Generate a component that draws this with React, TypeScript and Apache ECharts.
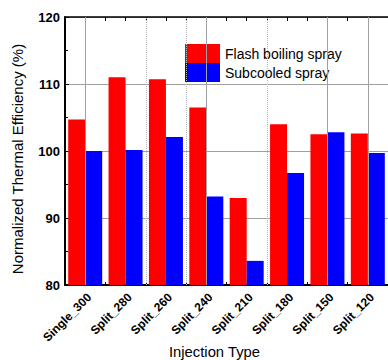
import React, { useEffect, useRef } from "react";
import * as echarts from "echarts";

// Injection strategies on the x axis
const categories = [
  "Single_300",
  "Split_280",
  "Split_260",
  "Split_240",
  "Split_210",
  "Split_180",
  "Split_150",
  "Split_120",
];

// Normalized thermal efficiency (%) per injection type
const flashBoiling = [104.7, 111.0, 110.7, 106.5, 93.0, 104.0, 102.5, 102.6];
const subcooled = [100.0, 100.15, 102.1, 93.2, 83.6, 96.7, 102.8, 99.7];

const yTicks = { min: 80, max: 120, step: 10 };

// Vertical guide lines on the 0..8 frame axis (category centres sit at i + 0.5)
const solidGuides = [0.5, 3.5, 6.5, 7.5];
const dottedGuides = [2, 3, 5];

const FONT = "'Liberation Sans', Arial, sans-serif";

export default function App() {
  const ref = useRef<HTMLDivElement>(null);

  useEffect(() => {
    if (!ref.current) return;
    const chart = echarts.init(ref.current, undefined, { renderer: "svg" });

    chart.setOption({
      animation: false,
      backgroundColor: "#ffffff",
      textStyle: { fontFamily: FONT },
      grid: { left: 65, top: 17, bottom: 75, right: -2, containLabel: false },
      legend: {
        orient: "vertical",
        left: 180,
        top: 39,
        itemWidth: 35,
        itemHeight: 19,
        itemGap: 0,
        icon: "rect",
        textStyle: { fontSize: 14, color: "#000", fontFamily: FONT },
        data: ["Flash boiling spray", "Subcooled spray"],
      },
      xAxis: [
        {
          type: "category",
          data: categories,
          position: "bottom",
          axisLine: { lineStyle: { color: "#000", width: 2 } },
          axisTick: { show: true, inside: true, length: 3, lineStyle: { color: "#000" } },
          axisLabel: {
            rotate: 45,
            fontSize: 12,
            fontWeight: "bold",
            color: "#000",
            margin: 6,
            verticalAlign: "top",
            fontFamily: FONT,
          },
          splitLine: { show: false },
        },
        {
          type: "value",
          position: "top",
          min: 0,
          max: 8,
          interval: 0.5,
          axisLine: { show: true, lineStyle: { color: "#000", width: 1.5 } },
          axisTick: { show: true, inside: true, length: 4, lineStyle: { color: "#000" } },
          axisLabel: { show: false },
          splitLine: { show: false },
        },
      ],
      yAxis: {
        type: "value",
        min: yTicks.min,
        max: yTicks.max,
        interval: yTicks.step,
        axisLine: { show: true, lineStyle: { color: "#000", width: 2 } },
        axisTick: { show: true, inside: true, length: 4, lineStyle: { color: "#000" } },
        minorTick: { show: true, splitNumber: 2, length: 3, lineStyle: { color: "#000" } },
        axisLabel: {
          fontSize: 13,
          fontWeight: "bold",
          color: "#000",
          margin: 5,
          fontFamily: FONT,
        },
        splitLine: { show: true, lineStyle: { color: "#a0a0a0", width: 1 } },
      },
      graphic: [
        {
          type: "text",
          x: 214.5,
          y: 352,
          style: {
            text: "Injection Type",
            fontSize: 14.8,
            fontFamily: FONT,
            fill: "#000",
            align: "center",
            verticalAlign: "middle",
          },
        },
        {
          type: "text",
          x: 17,
          y: 159,
          rotation: Math.PI / 2,
          style: {
            text: "Normalized Thermal Efficiency (%)",
            fontSize: 15,
            fontFamily: FONT,
            fill: "#000",
            align: "center",
            verticalAlign: "middle",
          },
        },
      ],
      series: [
        {
          type: "line",
          xAxisIndex: 1,
          yAxisIndex: 0,
          data: [],
          z: 1,
          silent: true,
          markLine: {
            silent: true,
            symbol: ["none", "none"],
            label: { show: false },
            data: [
              ...solidGuides.map((v) => ({
                xAxis: v,
                lineStyle: { color: "#a0a0a0", width: 1, type: "solid" },
              })),
              ...dottedGuides.map((v) => ({
                xAxis: v,
                lineStyle: { color: "#b8b8b8", width: 1, type: "dotted" },
              })),
            ],
          },
        },
        {
          name: "Flash boiling spray",
          type: "bar",
          data: flashBoiling,
          barWidth: 17,
          barGap: "0%",
          z: 2,
          itemStyle: { color: "#ff0000" },
        },
        {
          name: "Subcooled spray",
          type: "bar",
          data: subcooled,
          barWidth: 17,
          barGap: "0%",
          z: 2,
          itemStyle: { color: "#0000ff" },
        },
      ],
    });

    return () => chart.dispose();
  }, []);

  return (
    <div
      ref={ref}
      style={{ position: "fixed", left: 0, top: 0, width: 388, height: 360 }}
    />
  );
}
